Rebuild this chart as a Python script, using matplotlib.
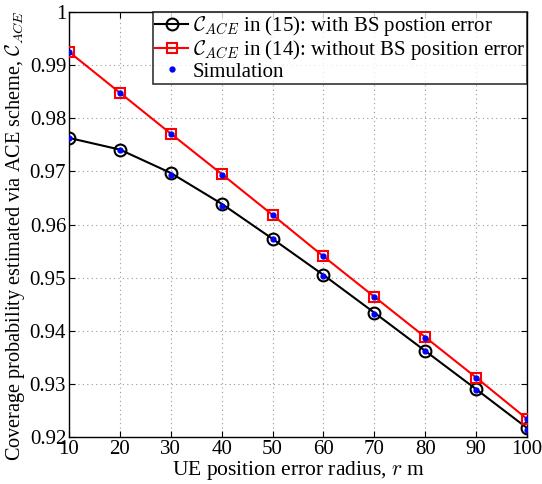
import numpy as np
import matplotlib
matplotlib.use("Agg")
import matplotlib.pyplot as plt

plt.rcParams["font.family"] = ["Liberation Serif", "DejaVu Serif"]
plt.rcParams["mathtext.fontset"] = "cm"

radius = [10, 20, 30, 40, 50, 60, 70, 80, 90, 100]
with_bs_err = [0.9763, 0.9741, 0.9697, 0.9639, 0.9573, 0.9505, 0.9434, 0.9362, 0.9290, 0.9217]
without_bs_err = [0.9925, 0.9848, 0.9771, 0.9695, 0.9618, 0.9540, 0.9464, 0.9388, 0.9312, 0.9234]
sim_with = [0.9762, 0.9741, 0.9693, 0.9635, 0.9572, 0.9503, 0.9432, 0.9361, 0.9289, 0.9214]
sim_without = [0.9925, 0.9847, 0.9771, 0.9694, 0.9618, 0.9540, 0.9463, 0.9387, 0.9312, 0.9233]

fig = plt.figure(figsize=(5.42, 4.84), dpi=100)
ax = fig.add_axes([69 / 542, 1 - 437 / 484, 458 / 542, 425 / 484])

ax.plot(radius, with_bs_err, color="black", linewidth=1.5, marker="o",
        markersize=8.5, markerfacecolor="none", markeredgecolor="black",
        markeredgewidth=1.5, label=r"$\mathcal{C}_{ACE}$ in (15): with BS postion error", zorder=3)
ax.plot(radius, without_bs_err, color="red", linewidth=1.5, marker="s",
        markersize=7, markerfacecolor="none", markeredgecolor="red",
        markeredgewidth=1.5, label=r"$\mathcal{C}_{ACE}$ in (14): without BS position error", zorder=3)
ax.plot(radius, sim_with, linestyle="none", marker=".", color="blue",
        markersize=7, label="Simulation", zorder=4)
ax.plot(radius, sim_without, linestyle="none", marker=".", color="blue",
        markersize=7, zorder=4)

ax.set_xlim(10, 100)
ax.set_ylim(0.92, 1.0)
ax.set_xticks(np.arange(10, 101, 10))
ax.set_yticks(np.arange(0.92, 1.001, 0.01))
ax.set_yticklabels(["0.92", "0.93", "0.94", "0.95", "0.96", "0.97", "0.98", "0.99", "1"])
ax.tick_params(direction="in", labelsize=15, length=4, top=True, right=True, pad=2)
ax.grid(True, linestyle=(0, (1, 3)), color="#999999", linewidth=0.8)

ax.set_xlabel(r"UE position error radius, $r$ m", fontsize=15.5, labelpad=0)
ax.set_ylabel(r"Coverage probability estimated via ACE scheme, $\mathcal{C}_{ACE}$",
              fontsize=14.6, va="center")
ax.yaxis.set_label_coords(-54 / 458, (437 - 236) / 425)

for spine in ax.spines.values():
    spine.set_linewidth(1.0)

leg = ax.legend(loc="upper right", fontsize=15, frameon=True, fancybox=False,
                borderaxespad=0, handlelength=1.6, handletextpad=0.2,
                borderpad=0.1, labelspacing=0.0)
leg.get_frame().set_edgecolor("black")
leg.get_frame().set_linewidth(1.2)

fig.savefig("out.png", dpi=100)
